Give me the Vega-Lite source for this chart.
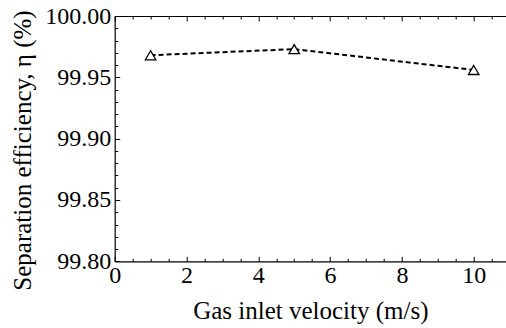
{
  "$schema": "https://vega.github.io/schema/vega-lite/v6.json",
  "width": 391.3,
  "height": 245.3,
  "autosize": "none",
  "padding": {"left": 114.7, "top": 16, "right": 0, "bottom": 66.7},
  "background": "white",
  "config": {
    "view": {"stroke": null},
    "axis": {
      "labelFont": "Liberation Serif",
      "titleFont": "Liberation Serif",
      "labelFontSize": 24,
      "titleFontSize": 25,
      "labelColor": "black",
      "titleColor": "black",
      "domainColor": "black",
      "domainWidth": 1.2,
      "tickColor": "black",
      "tickWidth": 1,
      "grid": false,
      "titleFontWeight": "normal"
    }
  },
  "data": {
    "values": [
      {"velocity": 1, "efficiency": 99.968},
      {"velocity": 5, "efficiency": 99.973},
      {"velocity": 10, "efficiency": 99.956}
    ]
  },
  "layer": [
    {
      "mark": {"type": "line", "strokeDash": [5, 3], "color": "black", "strokeWidth": 2},
      "encoding": {
        "x": {
          "field": "velocity", "type": "quantitative",
          "scale": {"domain": [0, 10.9], "nice": false},
          "axis": {
            "orient": "bottom", "values": [0, 2, 4, 6, 8, 10], "format": "d",
            "tickSize": -5, "labelPadding": 7, "labelFlush": false,
            "title": "Gas inlet velocity (m/s)", "titlePadding": 11
          }
        },
        "y": {
          "field": "efficiency", "type": "quantitative",
          "scale": {"domain": [99.8, 100], "nice": false, "zero": false},
          "axis": {
            "orient": "left", "values": [99.8, 99.85, 99.9, 99.95, 100], "format": ".2f",
            "tickSize": -5, "labelPadding": 9, "labelFlush": false,
            "title": "Separation efficiency, η (%)", "titlePadding": 9, "titleY": 134
          }
        }
      }
    },
    {
      "mark": {"type": "point", "shape": "triangle-up", "filled": true, "fill": "white", "stroke": "black", "size": 110, "strokeWidth": 1.3, "opacity": 1},
      "encoding": {
        "x": {
          "field": "velocity", "type": "quantitative",
          "scale": {"domain": [0, 10.9], "nice": false},
          "axis": {
            "orient": "bottom", "domain": false, "labels": false, "title": null, "tickSize": -3,
            "values": [0.5, 1, 1.5, 2.5, 3, 3.5, 4.5, 5, 5.5, 6.5, 7, 7.5, 8.5, 9, 9.5, 10.5]
          }
        },
        "y": {
          "field": "efficiency", "type": "quantitative",
          "scale": {"domain": [99.8, 100], "nice": false, "zero": false},
          "axis": {
            "orient": "left", "domain": false, "labels": false, "title": null, "tickSize": -3,
            "values": [99.81, 99.82, 99.83, 99.84, 99.86, 99.87, 99.88, 99.89, 99.91, 99.92, 99.93, 99.94, 99.96, 99.97, 99.98, 99.99]
          }
        }
      }
    },
    {
      "mark": {"type": "point", "opacity": 0},
      "encoding": {
        "x": {
          "field": "velocity", "type": "quantitative",
          "scale": {"domain": [0, 10.9], "nice": false},
          "axis": {
            "orient": "top", "labels": false, "title": null, "tickSize": -5,
            "values": [0, 2, 4, 6, 8, 10]
          }
        },
        "y": {
          "field": "efficiency", "type": "quantitative",
          "scale": {"domain": [99.8, 100], "nice": false, "zero": false},
          "axis": null
        }
      }
    },
    {
      "mark": {"type": "point", "opacity": 0},
      "encoding": {
        "x": {
          "field": "velocity", "type": "quantitative",
          "scale": {"domain": [0, 10.9], "nice": false},
          "axis": {
            "orient": "top", "domain": false, "labels": false, "title": null, "tickSize": -3,
            "values": [0.5, 1, 1.5, 2.5, 3, 3.5, 4.5, 5, 5.5, 6.5, 7, 7.5, 8.5, 9, 9.5, 10.5]
          }
        },
        "y": {
          "field": "efficiency", "type": "quantitative",
          "scale": {"domain": [99.8, 100], "nice": false, "zero": false},
          "axis": null
        }
      }
    }
  ],
  "resolve": {"axis": {"x": "independent", "y": "independent"}}
}
